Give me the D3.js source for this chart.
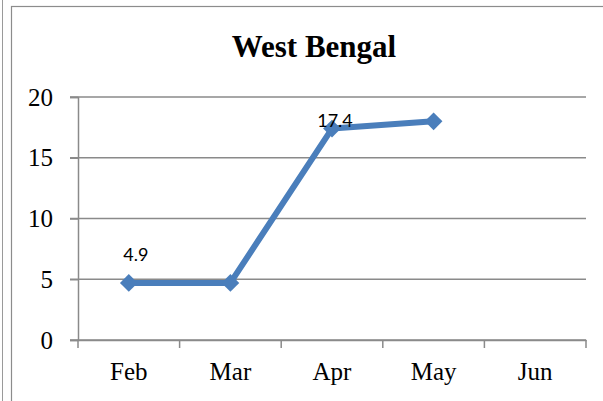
<!DOCTYPE html>
<html lang="en">
<head>
    <meta charset="UTF-8">
    <script src="https://cdn.jsdelivr.net/npm/d3@7/dist/d3.min.js"></script>
    <title>West Bengal</title>
    <style>
        body { margin: 0; background: #fff; }
    </style>
</head>
<body>
</body>
<script>

    let months = ["Feb", "Mar", "Apr", "May", "Jun"],
        values = [4.7, 4.7, 17.4, 18.0, null],
        labels = ["4.9", "", "17.4", "", ""],
        yTicks = [0, 5, 10, 15, 20];

    let width = 603,
        height = 401,
        plotLeft = 78,
        plotRight = 586,
        plotTop = 97,
        plotBottom = 340;

    let x = d3.scaleBand()
        .domain(months)
        .range([plotLeft, plotRight]);

    let y = d3.scaleLinear()
        .domain([0, 20])
        .range([plotBottom, plotTop]);

    let svg = d3.select("body")
        .append("svg")
        .attr("width", width)
        .attr("height", height);

    // chart frame
    svg.append("line")
        .attr("x1", 2.5).attr("x2", 2.5)
        .attr("y1", 0).attr("y2", height)
        .attr("stroke", "#9a9a9a");

    svg.append("rect")
        .attr("x", 11.5).attr("y", 6.5)
        .attr("width", 620).attr("height", 420)
        .attr("fill", "#fff")
        .attr("stroke", "#8c8c8c")
        .attr("stroke-width", 1.2);

    svg.append("text")
        .attr("x", 314)
        .attr("y", 57)
        .attr("text-anchor", "middle")
        .style("font-family", "'Liberation Serif', 'Times New Roman', serif")
        .style("font-weight", "bold")
        .style("font-size", "31px")
        .text("West Bengal");

    // gridlines
    svg.selectAll("line.grid")
        .data(yTicks)
        .enter()
        .append("line")
        .attr("class", "grid")
        .attr("x1", plotLeft - 8)
        .attr("x2", plotRight)
        .attr("y1", d => y(d))
        .attr("y2", d => y(d))
        .attr("stroke", "#8a8a8a")
        .attr("stroke-width", 1.5);

    let yAxis = svg.append("g")
        .attr("transform", "translate(" + plotLeft + ",0)")
        .call(d3.axisLeft(y).tickValues(yTicks).tickSize(8).tickPadding(17));

    let xAxis = svg.append("g")
        .attr("transform", "translate(0," + plotBottom + ")")
        .call(d3.axisBottom(x).tickSize(0).tickPadding(22));

    [yAxis, xAxis].forEach(function (g) {
        g.select(".domain").attr("stroke", "#8a8a8a").attr("stroke-width", 1.5);
        g.selectAll(".tick line").attr("stroke", "#8a8a8a").attr("stroke-width", 1.5);
        g.selectAll("text")
            .attr("fill", "#000")
            .style("font-family", "'Liberation Serif', 'Times New Roman', serif")
            .style("font-size", "25px");
    });

    // category boundary ticks on the x axis
    let bounds = months.map(m => x(m)).concat([x(months[months.length - 1]) + x.bandwidth()]);
    svg.selectAll("line.xtick")
        .data(bounds)
        .enter()
        .append("line")
        .attr("class", "xtick")
        .attr("x1", d => d)
        .attr("x2", d => d)
        .attr("y1", plotBottom)
        .attr("y2", plotBottom + 8)
        .attr("stroke", "#8a8a8a")
        .attr("stroke-width", 1.5);

    let points = months.map(function (m, i) {
        return {m: m, v: values[i], label: labels[i]};
    }).filter(d => d.v !== null);

    let line = d3.line()
        .x(d => x(d.m) + x.bandwidth() / 2)
        .y(d => y(d.v));

    svg.append("path")
        .datum(points)
        .attr("d", line)
        .attr("fill", "none")
        .attr("stroke", "#4a7ebb")
        .attr("stroke-width", 6)
        .attr("stroke-linejoin", "round");

    svg.selectAll("path.marker")
        .data(points)
        .enter()
        .append("path")
        .attr("class", "marker")
        .attr("d", d3.symbol().type(d3.symbolDiamond2).size(200))
        .attr("transform", d => "translate(" + (x(d.m) + x.bandwidth() / 2) + "," + y(d.v) + ")")
        .attr("fill", "#4a7ebb");

    svg.selectAll("text.label")
        .data(points.filter(d => d.label))
        .enter()
        .append("text")
        .attr("class", "label")
        .attr("x", d => x(d.m) + x.bandwidth() / 2 + (d.v > 10 ? 3 : 7))
        .attr("y", d => y(d.v) - (d.v > 10 ? 2 : 22))
        .attr("text-anchor", "middle")
        .style("font-family", "Lato, 'Open Sans', sans-serif")
        .style("font-size", "18px")
        .text(d => d.label);

</script>
</html>
